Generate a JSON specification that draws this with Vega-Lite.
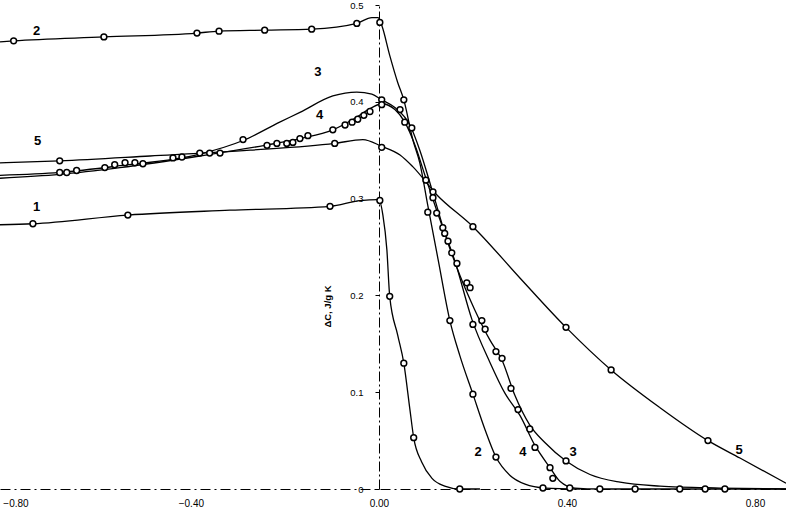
{
  "$schema": "https://vega.github.io/schema/vega-lite/v6.json",
  "width": 786,
  "height": 484,
  "autosize": "none",
  "padding": {"left": 0, "top": 5, "right": 0, "bottom": 27},
  "background": "white",
  "config": {"view": {"stroke": null}, "font": "Liberation Sans"},
  "datasets": {
    "lines": [
      {"curve": "1", "x": -0.806, "y": 0.273}, {"curve": "1", "x": -0.736, "y": 0.274}, {"curve": "1", "x": -0.534, "y": 0.283}, {"curve": "1", "x": -0.317, "y": 0.288}, {"curve": "1", "x": -0.104, "y": 0.292}, {"curve": "1", "x": -0.04, "y": 0.298}, {"curve": "1", "x": 0.0, "y": 0.299}, {"curve": "1", "x": 0.0085, "y": 0.283}, {"curve": "1", "x": 0.017, "y": 0.247}, {"curve": "1", "x": 0.023, "y": 0.199}, {"curve": "1", "x": 0.04, "y": 0.159}, {"curve": "1", "x": 0.053, "y": 0.13}, {"curve": "1", "x": 0.066, "y": 0.082}, {"curve": "1", "x": 0.074, "y": 0.053}, {"curve": "1", "x": 0.091, "y": 0.028}, {"curve": "1", "x": 0.113, "y": 0.011}, {"curve": "1", "x": 0.14, "y": 0.003}, {"curve": "1", "x": 0.172, "y": 0.0}, {"curve": "1", "x": 0.215, "y": 0.0},
      {"curve": "2", "x": -0.806, "y": 0.462}, {"curve": "2", "x": -0.777, "y": 0.463}, {"curve": "2", "x": -0.585, "y": 0.467}, {"curve": "2", "x": -0.387, "y": 0.471}, {"curve": "2", "x": -0.34, "y": 0.473}, {"curve": "2", "x": -0.243, "y": 0.474}, {"curve": "2", "x": -0.143, "y": 0.475}, {"curve": "2", "x": -0.047, "y": 0.481}, {"curve": "2", "x": -0.015, "y": 0.487}, {"curve": "2", "x": -0.002, "y": 0.487}, {"curve": "2", "x": 0.006, "y": 0.479}, {"curve": "2", "x": 0.023, "y": 0.448}, {"curve": "2", "x": 0.04, "y": 0.42}, {"curve": "2", "x": 0.053, "y": 0.402}, {"curve": "2", "x": 0.072, "y": 0.361}, {"curve": "2", "x": 0.087, "y": 0.337}, {"curve": "2", "x": 0.104, "y": 0.293}, {"curve": "2", "x": 0.126, "y": 0.237}, {"curve": "2", "x": 0.151, "y": 0.174}, {"curve": "2", "x": 0.172, "y": 0.138}, {"curve": "2", "x": 0.2, "y": 0.098}, {"curve": "2", "x": 0.226, "y": 0.061}, {"curve": "2", "x": 0.249, "y": 0.033}, {"curve": "2", "x": 0.279, "y": 0.014}, {"curve": "2", "x": 0.311, "y": 0.005}, {"curve": "2", "x": 0.353, "y": 0.001}, {"curve": "2", "x": 0.428, "y": 0.0},
      {"curve": "3", "x": -0.806, "y": 0.324}, {"curve": "3", "x": -0.679, "y": 0.327}, {"curve": "3", "x": -0.551, "y": 0.334}, {"curve": "3", "x": -0.381, "y": 0.346}, {"curve": "3", "x": -0.289, "y": 0.36}, {"curve": "3", "x": -0.211, "y": 0.379}, {"curve": "3", "x": -0.168, "y": 0.389}, {"curve": "3", "x": -0.098, "y": 0.406}, {"curve": "3", "x": -0.047, "y": 0.41}, {"curve": "3", "x": -0.015, "y": 0.408}, {"curve": "3", "x": 0.006, "y": 0.402}, {"curve": "3", "x": 0.034, "y": 0.394}, {"curve": "3", "x": 0.066, "y": 0.376}, {"curve": "3", "x": 0.087, "y": 0.35}, {"curve": "3", "x": 0.113, "y": 0.309}, {"curve": "3", "x": 0.145, "y": 0.257}, {"curve": "3", "x": 0.172, "y": 0.221}, {"curve": "3", "x": 0.204, "y": 0.185}, {"curve": "3", "x": 0.236, "y": 0.154}, {"curve": "3", "x": 0.262, "y": 0.133}, {"curve": "3", "x": 0.289, "y": 0.097}, {"curve": "3", "x": 0.321, "y": 0.066}, {"curve": "3", "x": 0.353, "y": 0.048}, {"curve": "3", "x": 0.398, "y": 0.029}, {"curve": "3", "x": 0.449, "y": 0.015}, {"curve": "3", "x": 0.513, "y": 0.007}, {"curve": "3", "x": 0.598, "y": 0.003}, {"curve": "3", "x": 0.726, "y": 0.001}, {"curve": "3", "x": 0.866, "y": 0.0},
      {"curve": "4", "x": -0.806, "y": 0.321}, {"curve": "4", "x": -0.679, "y": 0.325}, {"curve": "4", "x": -0.551, "y": 0.332}, {"curve": "4", "x": -0.381, "y": 0.344}, {"curve": "4", "x": -0.243, "y": 0.355}, {"curve": "4", "x": -0.168, "y": 0.362}, {"curve": "4", "x": -0.098, "y": 0.371}, {"curve": "4", "x": -0.051, "y": 0.383}, {"curve": "4", "x": -0.015, "y": 0.394}, {"curve": "4", "x": 0.006, "y": 0.398}, {"curve": "4", "x": 0.034, "y": 0.392}, {"curve": "4", "x": 0.055, "y": 0.379}, {"curve": "4", "x": 0.077, "y": 0.355}, {"curve": "4", "x": 0.098, "y": 0.324}, {"curve": "4", "x": 0.13, "y": 0.278}, {"curve": "4", "x": 0.162, "y": 0.235}, {"curve": "4", "x": 0.198, "y": 0.175}, {"curve": "4", "x": 0.236, "y": 0.131}, {"curve": "4", "x": 0.268, "y": 0.099}, {"curve": "4", "x": 0.3, "y": 0.076}, {"curve": "4", "x": 0.332, "y": 0.045}, {"curve": "4", "x": 0.364, "y": 0.022}, {"curve": "4", "x": 0.385, "y": 0.008}, {"curve": "4", "x": 0.417, "y": 0.001}, {"curve": "4", "x": 0.47, "y": 0.0}, {"curve": "4", "x": 0.866, "y": 0.0},
      {"curve": "5", "x": -0.806, "y": 0.337}, {"curve": "5", "x": -0.679, "y": 0.339}, {"curve": "5", "x": -0.487, "y": 0.344}, {"curve": "5", "x": -0.274, "y": 0.35}, {"curve": "5", "x": -0.094, "y": 0.357}, {"curve": "5", "x": -0.034, "y": 0.361}, {"curve": "5", "x": 0.006, "y": 0.354}, {"curve": "5", "x": 0.045, "y": 0.345}, {"curve": "5", "x": 0.072, "y": 0.333}, {"curve": "5", "x": 0.123, "y": 0.304}, {"curve": "5", "x": 0.2, "y": 0.271}, {"curve": "5", "x": 0.3, "y": 0.218}, {"curve": "5", "x": 0.398, "y": 0.167}, {"curve": "5", "x": 0.494, "y": 0.123}, {"curve": "5", "x": 0.598, "y": 0.084}, {"curve": "5", "x": 0.7, "y": 0.05}, {"curve": "5", "x": 0.768, "y": 0.032}, {"curve": "5", "x": 0.866, "y": 0.006}
    ],
    "markers": [
      {"curve": "1", "x": -0.736, "y": 0.274}, {"curve": "1", "x": -0.534, "y": 0.283}, {"curve": "1", "x": -0.104, "y": 0.292}, {"curve": "1", "x": 0.002, "y": 0.298}, {"curve": "1", "x": 0.023, "y": 0.199}, {"curve": "1", "x": 0.053, "y": 0.13}, {"curve": "1", "x": 0.074, "y": 0.053}, {"curve": "1", "x": 0.172, "y": 0.0},
      {"curve": "2", "x": -0.777, "y": 0.463}, {"curve": "2", "x": -0.585, "y": 0.467}, {"curve": "2", "x": -0.387, "y": 0.471}, {"curve": "2", "x": -0.34, "y": 0.473}, {"curve": "2", "x": -0.243, "y": 0.474}, {"curve": "2", "x": -0.143, "y": 0.475}, {"curve": "2", "x": -0.047, "y": 0.481}, {"curve": "2", "x": 0.002, "y": 0.482}, {"curve": "2", "x": 0.053, "y": 0.402}, {"curve": "2", "x": 0.104, "y": 0.286}, {"curve": "2", "x": 0.151, "y": 0.174}, {"curve": "2", "x": 0.2, "y": 0.098}, {"curve": "2", "x": 0.249, "y": 0.033}, {"curve": "2", "x": 0.349, "y": 0.001},
      {"curve": "3", "x": -0.289, "y": 0.361}, {"curve": "3", "x": 0.006, "y": 0.402}, {"curve": "3", "x": 0.07, "y": 0.373}, {"curve": "3", "x": 0.219, "y": 0.174}, {"curve": "3", "x": 0.226, "y": 0.165}, {"curve": "3", "x": 0.249, "y": 0.142}, {"curve": "3", "x": 0.262, "y": 0.135}, {"curve": "3", "x": 0.281, "y": 0.104}, {"curve": "3", "x": 0.398, "y": 0.029}, {"curve": "3", "x": 0.545, "y": 0.0}, {"curve": "3", "x": 0.64, "y": 0.0}, {"curve": "3", "x": 0.694, "y": 0.0}, {"curve": "3", "x": 0.736, "y": 0.0},
      {"curve": "4", "x": -0.679, "y": 0.327}, {"curve": "4", "x": -0.664, "y": 0.327}, {"curve": "4", "x": -0.643, "y": 0.329}, {"curve": "4", "x": -0.583, "y": 0.332}, {"curve": "4", "x": -0.562, "y": 0.335}, {"curve": "4", "x": -0.54, "y": 0.337}, {"curve": "4", "x": -0.519, "y": 0.337}, {"curve": "4", "x": -0.502, "y": 0.336}, {"curve": "4", "x": -0.438, "y": 0.342}, {"curve": "4", "x": -0.419, "y": 0.343}, {"curve": "4", "x": -0.381, "y": 0.347}, {"curve": "4", "x": -0.36, "y": 0.347}, {"curve": "4", "x": -0.338, "y": 0.347}, {"curve": "4", "x": -0.238, "y": 0.355}, {"curve": "4", "x": -0.217, "y": 0.357}, {"curve": "4", "x": -0.196, "y": 0.357}, {"curve": "4", "x": -0.183, "y": 0.358}, {"curve": "4", "x": -0.168, "y": 0.362}, {"curve": "4", "x": -0.151, "y": 0.365}, {"curve": "4", "x": -0.098, "y": 0.371}, {"curve": "4", "x": -0.072, "y": 0.376}, {"curve": "4", "x": -0.057, "y": 0.379}, {"curve": "4", "x": -0.045, "y": 0.382}, {"curve": "4", "x": -0.032, "y": 0.386}, {"curve": "4", "x": -0.019, "y": 0.39}, {"curve": "4", "x": 0.006, "y": 0.397}, {"curve": "4", "x": 0.045, "y": 0.392}, {"curve": "4", "x": 0.055, "y": 0.379}, {"curve": "4", "x": 0.1, "y": 0.319}, {"curve": "4", "x": 0.115, "y": 0.307}, {"curve": "4", "x": 0.115, "y": 0.301}, {"curve": "4", "x": 0.123, "y": 0.285}, {"curve": "4", "x": 0.136, "y": 0.27}, {"curve": "4", "x": 0.14, "y": 0.264}, {"curve": "4", "x": 0.147, "y": 0.256}, {"curve": "4", "x": 0.155, "y": 0.244}, {"curve": "4", "x": 0.166, "y": 0.233}, {"curve": "4", "x": 0.187, "y": 0.213}, {"curve": "4", "x": 0.194, "y": 0.208}, {"curve": "4", "x": 0.2, "y": 0.17}, {"curve": "4", "x": 0.296, "y": 0.082}, {"curve": "4", "x": 0.321, "y": 0.062}, {"curve": "4", "x": 0.332, "y": 0.043}, {"curve": "4", "x": 0.364, "y": 0.022}, {"curve": "4", "x": 0.37, "y": 0.011}, {"curve": "4", "x": 0.406, "y": 0.001}, {"curve": "4", "x": 0.47, "y": 0.0},
      {"curve": "5", "x": -0.679, "y": 0.339}, {"curve": "5", "x": -0.094, "y": 0.357}, {"curve": "5", "x": 0.006, "y": 0.353}, {"curve": "5", "x": 0.2, "y": 0.271}, {"curve": "5", "x": 0.398, "y": 0.167}, {"curve": "5", "x": 0.494, "y": 0.123}, {"curve": "5", "x": 0.7, "y": 0.05}
    ],
    "labels": [
      {"text": "1", "x": -0.728, "y": 0.291}, {"text": "2", "x": -0.728, "y": 0.473}, {"text": "3", "x": -0.13, "y": 0.431}, {"text": "4", "x": -0.126, "y": 0.386}, {"text": "5", "x": -0.726, "y": 0.36},
      {"text": "2", "x": 0.211, "y": 0.038}, {"text": "4", "x": 0.306, "y": 0.038}, {"text": "3", "x": 0.413, "y": 0.038}, {"text": "5", "x": 0.766, "y": 0.04}
    ]
  },
  "layer": [
    {
      "data": {"name": "lines"},
      "mark": {"type": "line", "interpolate": "monotone", "color": "black", "strokeWidth": 1.3},
      "encoding": {
        "x": {
          "field": "x", "type": "quantitative",
          "scale": {"domain": [-0.806, 0.866], "nice": false, "zero": false},
          "axis": {
            "orient": "bottom", "title": null, "grid": false, "ticks": false,
            "values": [-0.8, -0.4, 0, 0.4, 0.8], "format": ".2f",
            "labelFlush": false, "labelAlign": {"expr": "datum.value < -0.7 ? 'left' : 'center'"},
            "labelFont": "Liberation Sans", "labelFontSize": 10, "labelColor": "black", "labelPadding": 9,
            "domainColor": "black", "domainWidth": 1, "domainDash": [10, 4, 2, 4]
          }
        },
        "y": {
          "field": "y", "type": "quantitative",
          "scale": {"domain": [0, 0.5], "nice": false},
          "axis": {
            "orient": "left", "offset": -379, "grid": false,
            "values": [0, 0.1, 0.2, 0.3, 0.4, 0.5],
            "labelExpr": "datum.value == 0 ? '0' : format(datum.value, '.1f')",
            "labelFont": "Liberation Sans", "labelFontSize": 9.5, "labelColor": "black", "labelPadding": 12,
            "tickSize": 4, "tickColor": "black",
            "domainColor": "black", "domainWidth": 1, "domainDash": [10, 3, 2, 3],
            "title": "ΔC, J/g K", "titleFont": "Liberation Sans", "titleFontSize": 9.5, "titleFontWeight": "bold",
            "titleColor": "black", "titleAngle": -90, "titleAlign": "center", "titleBaseline": "middle",
            "titleX": -52, "titleY": 301
          }
        },
        "detail": {"field": "curve", "type": "nominal"}
      }
    },
    {
      "data": {"name": "markers"},
      "mark": {"type": "point", "shape": "circle", "filled": false, "fill": "white", "fillOpacity": 1, "stroke": "black", "strokeWidth": 1.5, "size": 34, "opacity": 1},
      "encoding": {
        "x": {"field": "x", "type": "quantitative"},
        "y": {"field": "y", "type": "quantitative"}
      }
    },
    {
      "data": {"name": "labels"},
      "mark": {"type": "text", "font": "Liberation Sans", "fontSize": 13, "fontWeight": "bold", "color": "black", "align": "center", "baseline": "middle"},
      "encoding": {
        "x": {"field": "x", "type": "quantitative"},
        "y": {"field": "y", "type": "quantitative"},
        "text": {"field": "text"}
      }
    }
  ]
}
